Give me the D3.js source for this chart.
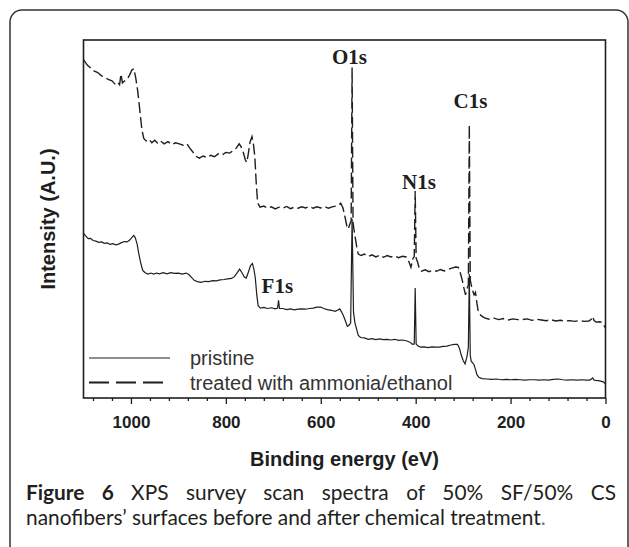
<!DOCTYPE html>
<html>
<head>
<meta charset="utf-8">
<script src="https://cdn.jsdelivr.net/npm/d3@7"></script>
<style>
  body { margin: 0; background: #fff; }
</style>
</head>
<body>
<svg id="fig" width="629" height="547"></svg>
<script>
// binding energy (eV) / intensity (a.u., 0-100)
const treatedEnergy = [1100,1092,1085,1078,1070,1062,1055,1048,1040,1033,1028,1024,1021,1018,1013,1008,1003,998,994,990,986,981,977,973,968,962,956,950,944,938,930,922,914,906,898,890,882,876,870,864,856,848,840,832,824,816,808,800,792,784,778,772,768,763,759,756,753,749,745,742,739,736,733,728,720,712,704,696,688,680,672,664,656,648,640,632,624,616,608,600,592,584,576,568,562,558,553,549,545,542,539,536,534,532,530,527,524,521,515,508,500,492,484,476,468,460,452,444,436,428,420,414,410,406,403,401,399,396,392,388,380,372,364,356,348,340,332,324,316,310,306,302,298,295,292,289,287,285,283,280,277,274,271,268,262,255,245,235,225,215,205,195,185,175,165,155,145,135,125,115,105,95,85,75,65,55,45,35,30,27,24,20,12,6,3,0];
const treatedIntensity = [94.5,93.0,92.2,91.4,90.9,90.0,89.6,89.0,88.6,87.6,88.2,87.5,90.5,88.0,88.6,89.0,90.2,91.6,92.0,89.5,86.0,80.0,75.0,72.5,71.8,72.3,71.3,72.0,71.2,71.8,71.0,71.6,70.8,71.3,71.0,70.6,71.0,69.8,68.8,67.6,67.0,67.6,67.2,67.8,67.4,68.2,67.9,68.6,68.4,69.2,69.8,71.0,70.2,68.5,66.5,65.8,68.0,71.5,73.0,71.0,67.5,60.0,54.5,53.3,53.6,53.0,53.4,52.8,53.3,53.0,53.5,52.9,53.3,53.0,53.4,53.1,53.5,53.0,53.4,53.1,53.5,53.0,53.4,53.6,53.9,54.4,53.0,50.6,48.0,47.2,48.5,49.5,92.3,49.0,47.0,44.5,42.0,40.2,39.8,40.2,39.5,40.0,39.4,39.9,39.3,39.8,39.4,39.7,39.2,39.6,39.4,38.0,36.5,38.9,39.5,57.8,39.0,38.0,36.0,35.4,35.8,35.3,35.7,35.4,35.9,35.5,35.9,36.3,36.6,36.5,35.0,33.0,30.5,28.8,30.5,31.6,76.3,33.0,31.6,30.0,28.8,29.5,26.5,24.0,23.0,22.4,22.0,22.3,21.9,22.2,21.8,22.1,21.9,21.9,22.1,21.7,22.0,21.8,21.6,21.9,21.5,21.7,21.5,21.6,21.4,21.6,21.4,21.5,22.0,22.8,21.6,21.2,21.3,21.0,20.2,19.6];

const pristineEnergy = [1100,1095,1090,1085,1080,1074,1068,1062,1056,1050,1044,1038,1032,1026,1020,1014,1008,1002,997,994,991,987,983,979,975,970,964,958,952,946,940,932,924,916,908,900,892,884,878,872,866,860,852,844,836,828,820,812,804,796,788,782,776,771,766,761,757,753,748,744,741,738,735,732,727,720,712,704,696,691,689,687,680,672,664,656,648,640,632,624,616,608,600,594,586,578,570,564,560,556,552,548,544,540,537,534,531,528,525,521,516,508,500,492,484,476,468,460,452,444,436,428,420,412,407,403,401,399,395,390,382,374,366,358,350,342,334,326,318,312,308,304,300,296,292,289,287,285,283,280,277,274,271,267,260,250,240,230,220,210,200,190,180,170,160,150,140,130,120,110,100,90,80,70,60,50,40,33,29,27,24,20,12,5,2,0];
const pristineIntensity = [46.0,45.2,44.5,44.6,44.0,43.8,43.5,43.6,43.2,43.3,42.9,43.1,42.8,43.0,43.4,43.7,43.6,44.2,45.0,45.4,44.8,43.0,40.0,37.5,35.6,35.0,34.6,34.9,34.6,34.9,34.7,35.0,34.7,35.0,34.8,34.9,34.6,34.9,34.5,33.6,32.8,32.5,32.3,32.6,32.5,32.8,32.7,33.0,33.1,33.3,33.4,33.9,35.0,36.0,35.0,33.8,33.5,35.0,37.0,37.6,36.0,33.6,29.0,25.8,25.1,25.3,25.0,25.2,24.9,25.1,27.3,25.0,25.0,24.7,24.9,24.6,24.8,24.9,24.8,25.0,25.1,25.4,25.4,25.0,24.7,24.5,24.2,24.6,24.9,24.0,22.9,21.5,20.0,20.4,21.0,50.1,23.9,21.0,19.5,17.5,16.9,16.8,16.4,16.6,16.3,16.5,16.3,16.4,16.2,16.4,16.1,16.2,16.0,15.6,15.0,15.1,30.7,15.1,14.5,14.2,14.3,14.1,14.3,14.2,14.2,14.4,14.5,14.8,15.0,15.0,14.0,12.0,10.5,9.5,11.5,14.2,34.6,12.0,10.3,9.8,9.3,8.0,6.5,5.8,5.4,5.3,5.2,5.3,5.1,5.2,5.1,5.2,5.1,5.0,5.1,5.1,5.0,5.1,5.0,5.2,5.3,5.1,5.0,5.1,5.0,5.1,5.0,5.0,5.4,5.6,5.0,4.9,4.8,4.5,4.2,4.0];

const xTicks = [1000, 800, 600, 400, 200, 0];
const xMinorTicks = d3.range(0, 1100, 40).filter(v => v % 200 !== 0);

// peak labels: text, energy, intensity
const peakNames = ["O1s", "C1s", "N1s", "F1s"];
const peakEnergy = [539.5, 284.5, 393, 691.5];
const peakIntensity = [93.3, 81, 58.4, 29.3];

const legendNames = ["pristine", "treated with ammonia/ethanol"];

const captionBold = "Figure 6";
const captionLine1 = "XPS survey scan spectra of 50% SF/50% CS";
const captionLine2 = "nanofibers\u2019 surfaces before and after chemical treatment";

const ink = "#1e1e1e";

const svg = d3.select("#fig");

// outer figure panel
svg.append("rect")
  .attr("x", 10).attr("y", 10)
  .attr("width", 618).attr("height", 600)
  .attr("rx", 12)
  .attr("fill", "none")
  .attr("stroke", "#333")
  .attr("stroke-width", 1.5);

const x = d3.scaleLinear().domain([1100, 0]).range([83.5, 605.5]);
const y = d3.scaleLinear().domain([0, 100]).range([398, 40]);

const line = d3.line()
  .x(d => x(d[0]))
  .y(d => y(d[1]));

const treated = treatedEnergy.map((e, i) => [e, treatedIntensity[i]]);
const pristine = pristineEnergy.map((e, i) => [e, pristineIntensity[i]]);

svg.append("path")
  .datum(treated)
  .attr("d", line)
  .attr("fill", "none")
  .attr("stroke", ink)
  .attr("stroke-width", 1.4)
  .attr("stroke-dasharray", "11,4");

svg.append("path")
  .datum(pristine)
  .attr("d", line)
  .attr("fill", "none")
  .attr("stroke", ink)
  .attr("stroke-width", 1.2);

// frame
svg.append("rect")
  .attr("x", x(1100)).attr("y", y(100))
  .attr("width", x(0) - x(1100)).attr("height", y(0) - y(100))
  .attr("fill", "none")
  .attr("stroke", ink)
  .attr("stroke-width", 1.6);

// axes
const minorAxis = svg.append("g")
  .attr("transform", "translate(0," + y(0) + ")")
  .call(d3.axisBottom(x).tickValues(xMinorTicks).tickSize(3).tickFormat(""));
minorAxis.select(".domain").remove();

const majorAxis = svg.append("g")
  .attr("transform", "translate(0," + y(0) + ")")
  .call(d3.axisBottom(x).tickValues(xTicks).tickSize(6).tickPadding(12).tickFormat(d3.format("d")));
majorAxis.select(".domain").remove();

svg.selectAll(".tick line").attr("stroke", ink).attr("stroke-width", 1.3);
majorAxis.selectAll("text")
  .attr("fill", ink)
  .style("font-family", "'Liberation Sans', Arial, sans-serif")
  .style("font-weight", "bold")
  .style("font-size", "17px");

svg.append("text")
  .attr("x", (x(1100) + x(0)) / 2)
  .attr("y", 466)
  .attr("text-anchor", "middle")
  .attr("fill", ink)
  .style("font-family", "'Liberation Sans', Arial, sans-serif")
  .style("font-weight", "bold")
  .style("font-size", "20px")
  .text("Binding energy (eV)");

svg.append("text")
  .attr("transform", "translate(55," + (y(0) + y(100)) / 2 + ") rotate(-90)")
  .attr("text-anchor", "middle")
  .attr("fill", ink)
  .style("font-family", "'Liberation Sans', Arial, sans-serif")
  .style("font-weight", "bold")
  .style("font-size", "20px")
  .text("Intensity (A.U.)");

// peak labels
svg.selectAll("text.peak")
  .data(peakNames)
  .enter().append("text")
  .attr("class", "peak")
  .attr("x", (d, i) => x(peakEnergy[i]))
  .attr("y", (d, i) => y(peakIntensity[i]))
  .attr("text-anchor", "middle")
  .attr("fill", ink)
  .style("font-family", "'Liberation Serif', 'Times New Roman', serif")
  .style("font-weight", "bold")
  .style("font-size", "21px")
  .text(d => d);

// legend
const legend = svg.append("g").attr("transform", "translate(89,358)");
legendNames.forEach((name, i) => {
  const g = legend.append("g").attr("transform", "translate(0," + i * 24.5 + ")");
  g.append("line")
    .attr("x1", 0).attr("x2", i === 0 ? 81 : 74)
    .attr("stroke", ink)
    .attr("stroke-width", i === 0 ? 1.2 : 2.2)
    .attr("stroke-dasharray", i === 0 ? null : "20,7");
  g.append("text")
    .attr("x", 101).attr("y", 7)
    .attr("fill", "#333")
    .style("font-family", "'Liberation Sans', Arial, sans-serif")
    .style("font-size", "20px")
    .text(name);
});

// caption
const capFont = "Lato, 'Open Sans', sans-serif";
const cap1 = svg.append("text")
  .attr("x", 26).attr("y", 500)
  .attr("fill", "#231f20")
  .style("font-family", capFont)
  .style("font-size", "17px");
cap1.append("tspan").style("font-weight", "bold").text(captionBold + " ");
cap1.append("tspan").text(captionLine1);

const cap2 = svg.append("text")
  .attr("x", 26).attr("y", 525)
  .attr("fill", "#231f20")
  .style("font-family", capFont)
  .style("font-size", "17px")
  .text(captionLine2);
cap2.append("tspan").attr("fill", "#777").text(".");

// fit line 2 width, then justify line 1 across the panel
const w2 = cap2.node().getComputedTextLength();
const capSize = 17 * 520 / w2;
cap1.style("font-size", capSize + "px");
cap2.style("font-size", capSize + "px");
const w1 = cap1.node().getComputedTextLength();
const gaps = (captionBold + " " + captionLine1).split(" ").length - 1;
cap1.attr("word-spacing", (590 - w1) / gaps);
</script>
</body>
</html>
